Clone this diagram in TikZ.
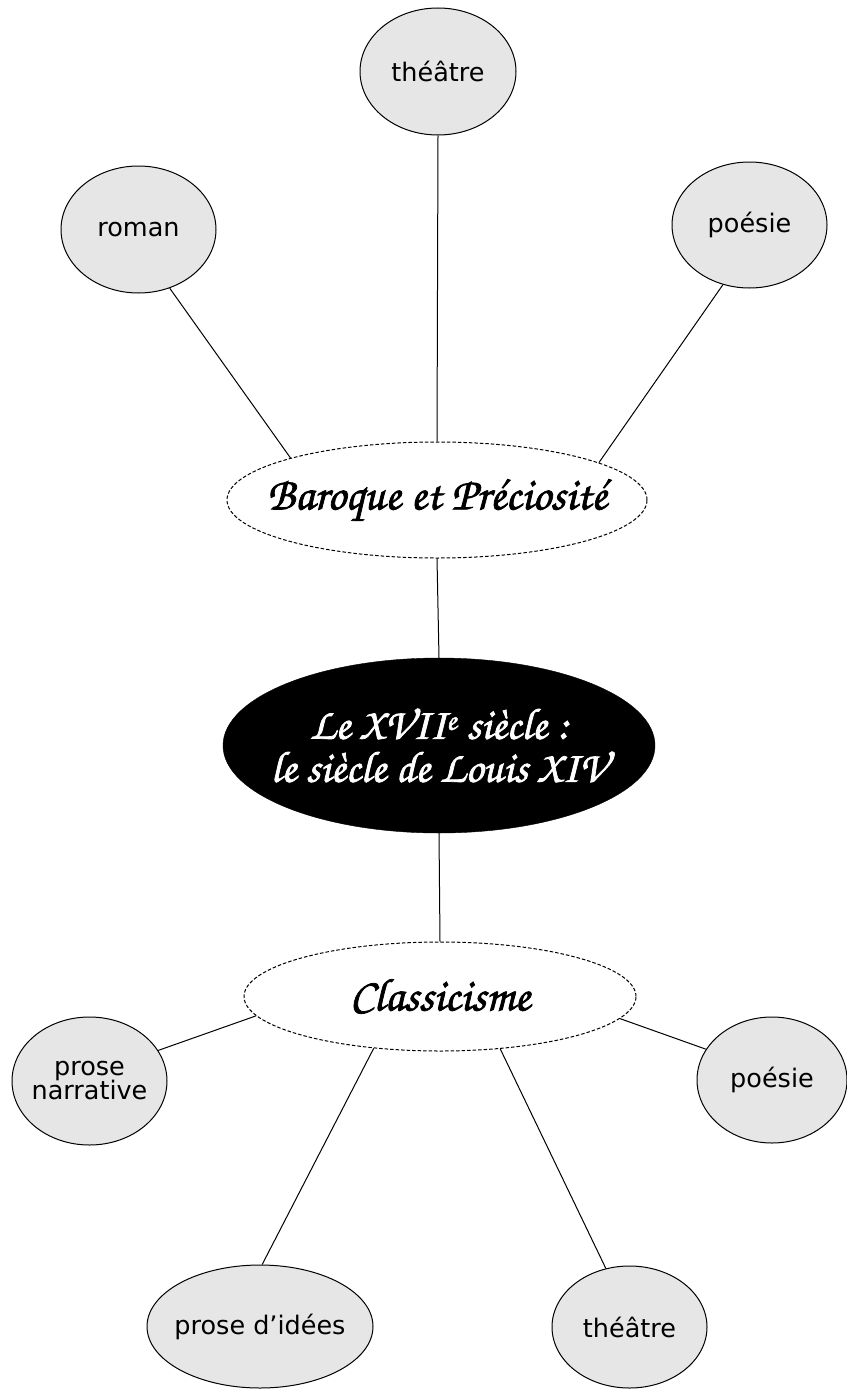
\documentclass[tikz,border=0pt]{standalone}
\usepackage{fontspec}
\setmainfont{DejaVu Sans}
\newfontfamily\brushfont[FakeBold=1.6]{TeX Gyre Chorus}
\usetikzlibrary{shapes.geometric}
\definecolor{bubble}{HTML}{E6E6E6}
\tikzset{
  leaf/.style={ellipse, draw=black, fill=bubble, line width=1pt, inner xsep=-20pt, inner ysep=0pt,
    font=\fontsize{25.5}{28}\selectfont, align=center},
  branch/.style={ellipse, draw=black, dash pattern=on 3.5pt off 2pt, line width=1pt,
    inner xsep=-40pt, inner ysep=0pt, font=\brushfont\bfseries\fontsize{46}{48}\selectfont},
  hub/.style={ellipse, fill=black, draw=black, inner xsep=-60pt, inner ysep=0pt, text=white, align=center,
    font=\brushfont\bfseries\fontsize{44}{43}\selectfont},
  link/.style={draw=black, line width=1pt}
}
\begin{document}
\begin{tikzpicture}[x=1pt,y=-1pt]
\useasboundingbox (0,0) rectangle (846,1389);
% top branch
\node[leaf, minimum width=156pt, minimum height=127pt] (theatreA) at (438,71.5) {théâtre};
\node[leaf, minimum width=155pt, minimum height=127pt] (roman) at (138.5,229.5) {roman};
\node[leaf, minimum width=155pt, minimum height=126pt] (poesieA) at (749.5,225) {poésie};
\node[branch, minimum width=420pt, minimum height=116pt] (baroque) at (437,500) {Baroque et Préciosité};
% hub
\node[hub, minimum width=432pt, minimum height=175pt] (hub) at (439,745.5)
  {Le XVII\textsuperscript{e} siècle :\\ le siècle de Louis XIV};
% bottom branch
\node[branch, minimum width=392pt, minimum height=109pt] (classic) at (440,996.5) {Classicisme};
\node[leaf, minimum width=155pt, minimum height=128pt] (narrative) at (89.5,1081) {prose\\[-4pt]narrative};
\node[leaf, minimum width=150pt, minimum height=126pt] (poesieB) at (772,1080) {poésie};
\node[leaf, minimum width=226pt, minimum height=123pt] (idees) at (260,1326.5) {prose d’idées};
\node[leaf, minimum width=155pt, minimum height=122pt] (theatreB) at (629.5,1327) {théâtre};
% connectors
\draw[link] (theatreA.south) -- (baroque.north);
\draw[link] (roman.298) -- (baroque.164);
\draw[link] (poesieA.246) -- (baroque.13);
\draw[link] (baroque.south) -- (hub.north);
\draw[link] (hub.south) -- (classic.north);
\draw[link] (classic.186) -- (narrative.24);
\draw[link] (classic.353) -- (poesieB.155);
\draw[link] (classic.218) -- (idees.88);
\draw[link] (classic.319) -- (theatreB.112);
\end{tikzpicture}
\end{document}
